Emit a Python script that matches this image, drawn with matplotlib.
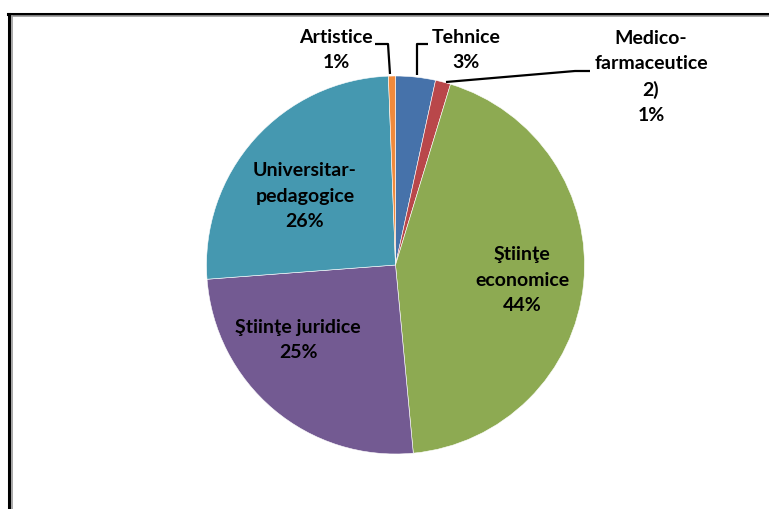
import matplotlib
matplotlib.use("Agg")
import matplotlib.pyplot as plt
from matplotlib.lines import Line2D

categories = ["Artistice", "Tehnice", "Medico-\nfarmaceutice\n2)", "Ştiinţe\neconomice",
              "Ştiinţe juridice", "Universitar-\npedagogice"]
values = [0.6, 3.4, 1.3, 43.8, 25.3, 25.6]
pct_labels = ["1%", "3%", "1%", "44%", "25%", "26%"]
colors = ["#F08A3C", "#4672AA", "#B9474A", "#8DAA52", "#735A92", "#4598B0"]

# order in pie: clockwise from top starting with Tehnice
order = [1, 2, 3, 4, 5, 0]

W, H = 769, 509
fig = plt.figure(figsize=(W / 100, H / 100), dpi=100)
ax = fig.add_axes([0, 0, 1, 1])

cx, cy, r = 395.5, H - 265, 189
ax.pie([values[i] for i in order], colors=[colors[i] for i in order],
       startangle=90, counterclock=False, center=(cx, cy), radius=r,
       wedgeprops=dict(linewidth=0.4, edgecolor="white"), frame=True)
ax.set_xlim(0, W)
ax.set_ylim(0, H)
ax.set_aspect("equal")
ax.axis("off")

fp = dict(family=["Lato", "DejaVu Sans"], weight="bold", fontsize=14, color="black",
          ha="center", va="center", linespacing=1.6)

def Y(y):
    return H - y

# inside labels
ax.text(305, Y(196), categories[5] + "\n" + pct_labels[5], **fp)
ax.text(298, Y(340), categories[4] + "\n" + pct_labels[4], **fp)
ax.text(522, Y(280), categories[3] + "\n" + pct_labels[3], **fp)
# outside labels
ax.text(336, Y(50), categories[0] + "\n" + pct_labels[0], **fp)
ax.text(466, Y(50), categories[1] + "\n" + pct_labels[1], **fp)
ax.text(651, Y(77), categories[2] + "\n" + pct_labels[2], **fp)

# leader lines
lk = dict(color="black", lw=1.6, solid_capstyle="butt")
ax.plot([375, 388, 390], [Y(44), Y(44), Y(74)], **lk)
ax.plot([428, 417, 417], [Y(44), Y(44), Y(75)], **lk)
ax.plot([446, 575, 590], [Y(82), Y(71), Y(71)], **lk)

# frame
fig.add_artist(Line2D([9 / W, 9 / W], [0, Y(13.5) / H], color="black", lw=2.2,
                      transform=fig.transFigure))
fig.add_artist(Line2D([8 / W, 1], [Y(14) / H, Y(14) / H], color="black", lw=2.2,
                      transform=fig.transFigure))
fig.add_artist(Line2D([11.8 / W, 11.8 / W], [0, Y(15.5) / H], color="#999999", lw=1.2,
                      transform=fig.transFigure))
fig.add_artist(Line2D([11.5 / W, 1], [Y(16.3) / H, Y(16.3) / H], color="#999999", lw=1.2,
                      transform=fig.transFigure))

fig.savefig("out.png", dpi=100)
